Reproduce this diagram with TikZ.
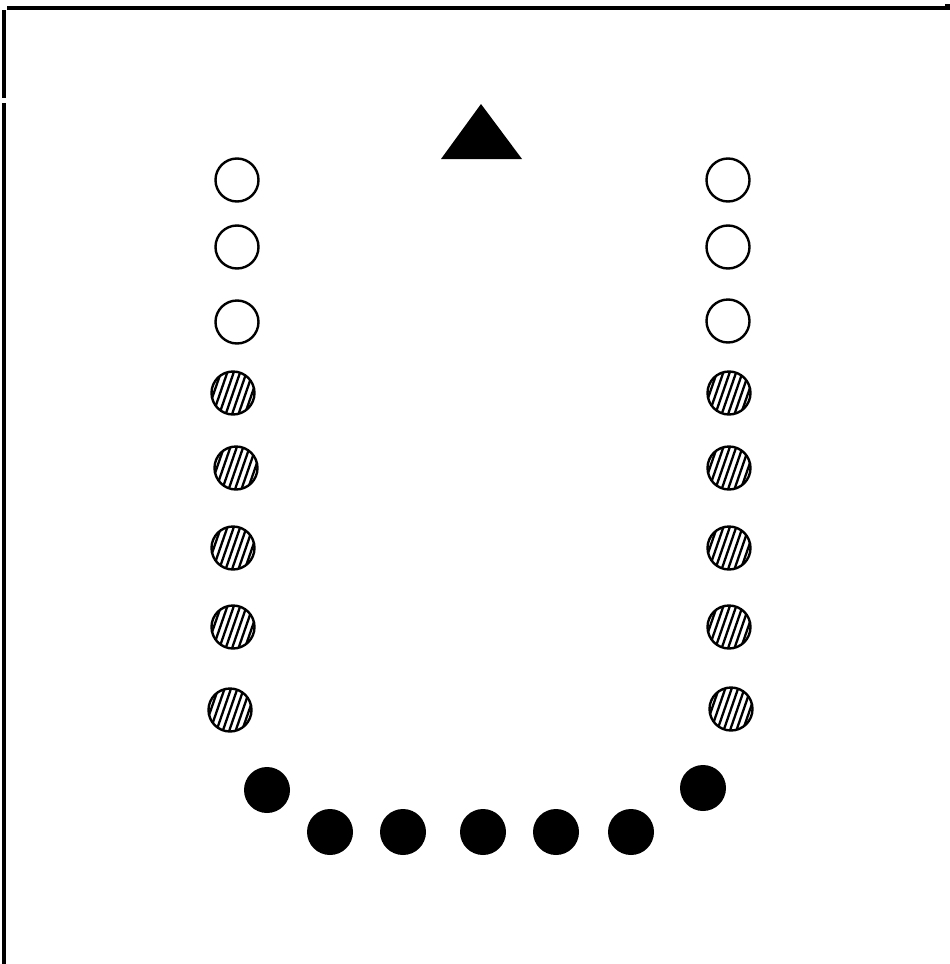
\documentclass[tikz,border=0pt]{standalone}
\begin{document}
\begin{tikzpicture}[x=1pt,y=-1pt,
  seat/.style={circle,draw,line width=2.4pt,minimum size=43pt,inner sep=0pt},
  hatched/.style={seat,path picture={\foreach \i in {-6,...,6}{\draw[line width=2.3pt] ([xshift=\i*6.4pt]path picture bounding box.center) ++(-9pt,-26pt) -- ++(18pt,52pt);}}},
  solid/.style={circle,fill=black,minimum size=46pt,inner sep=0pt},
  frame/.style={line width=3.2pt}]
\useasboundingbox (0,0) rectangle (950,964);
% frame
\draw[frame] (7,8) -- (950,8);
\fill (945,4) rectangle (950,9);
\draw[frame] (4,10) -- (4,98);
\draw[frame] (4,103) -- (4,964);
% triangle
\fill (481,104) -- (522,159) -- (441,159) -- cycle;
% left column
\node[seat] (l1) at (237,180) {};
\node[seat] (l2) at (237,247) {};
\node[seat] (l3) at (237,322) {};
\node[hatched] (l4) at (233,393) {};
\node[hatched] (l5) at (236,468) {};
\node[hatched] (l6) at (233,548) {};
\node[hatched] (l7) at (233,627) {};
\node[hatched] (l8) at (230,710) {};
% right column
\node[seat] (r1) at (728,180) {};
\node[seat] (r2) at (728,247) {};
\node[seat] (r3) at (728,321) {};
\node[hatched] (r4) at (729,393) {};
\node[hatched] (r5) at (729,468) {};
\node[hatched] (r6) at (729,548) {};
\node[hatched] (r7) at (729,627) {};
\node[hatched] (r8) at (731,709) {};
% bottom
\node[solid] (b1) at (267,790) {};
\node[solid] (b2) at (330,832) {};
\node[solid] (b3) at (403,832) {};
\node[solid] (b4) at (483,832) {};
\node[solid] (b5) at (556,832) {};
\node[solid] (b6) at (631,832) {};
\node[solid] (b7) at (703,788) {};
\end{tikzpicture}
\end{document}
